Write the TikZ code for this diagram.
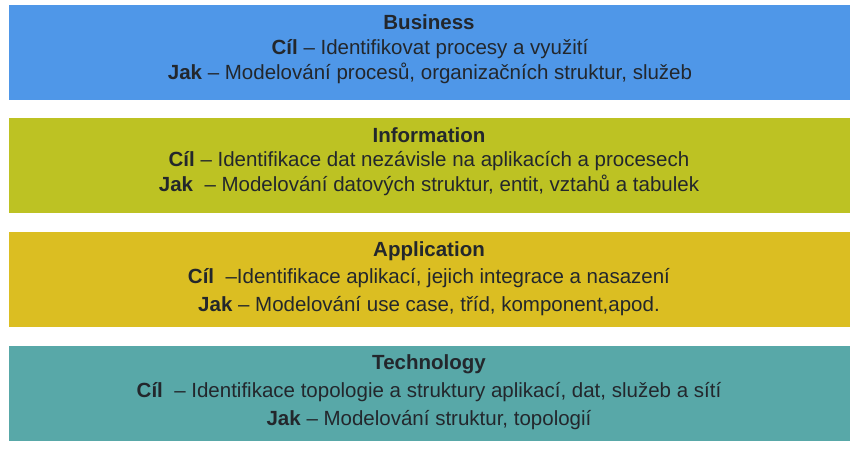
\documentclass[tikz,border=0pt]{standalone}
\usepackage{fontspec}
\setmainfont{Liberation Sans}
\begin{document}
\begin{tikzpicture}[x=1pt,y=-1pt,
  layer/.style={draw=none,minimum width=841pt,minimum height=95pt,inner sep=0pt,anchor=north west},
  txt/.style={text=ink,font=\fontsize{20.5}{24}\selectfont,anchor=base,inner sep=0pt}]
\definecolor{ink}{HTML}{23272C}
\definecolor{cBus}{HTML}{4F97E8}
\definecolor{cInf}{HTML}{BDC223}
\definecolor{cApp}{HTML}{DBBE22}
\definecolor{cTec}{HTML}{58A8A8}
\fill[white] (0,0) rectangle (857,450);
\useasboundingbox (0,0) rectangle (857,450);
% layers
\node[layer,fill=cBus] (bus) at (9,5) {};
\node[layer,fill=cInf] (inf) at (9,118) {};
\node[layer,fill=cApp] (app) at (9,232) {};
\node[layer,fill=cTec] (tec) at (9,346) {};
% Business
\node[txt] (busT) at (429,29) {\textbf{Business}};
\node[txt] (busC) at (430,54) {\textbf{Cíl} – Identifikovat procesy a využití};
\node[txt] (busJ) at (430,79) {\textbf{Jak} – Modelování procesů, organizačních struktur, služeb};
% Information
\node[txt] (infT) at (429,142) {\textbf{Information}};
\node[txt] (infC) at (429,166) {\textbf{Cíl} – Identifikace dat nezávisle na aplikacích a procesech};
\node[txt] (infJ) at (429,191) {\textbf{Jak}\ \ – Modelování datových struktur, entit, vztahů a tabulek};
% Application
\node[txt] (appT) at (429,256) {\textbf{Application}};
\node[txt] (appC) at (429,283) {\textbf{Cíl}\ \ –Identifikace aplikací, jejich integrace a nasazení};
\node[txt] (appJ) at (429,311) {\textbf{Jak} – Modelování use case, tříd, komponent,apod.};
% Technology
\node[txt] (tecT) at (429,369) {\textbf{Technology}};
\node[txt] (tecC) at (429,397) {\textbf{Cíl}\ \ – Identifikace topologie a struktury aplikací, dat, služeb a sítí};
\node[txt] (tecJ) at (429,425) {\textbf{Jak} – Modelování struktur, topologií};
\end{tikzpicture}
\end{document}
